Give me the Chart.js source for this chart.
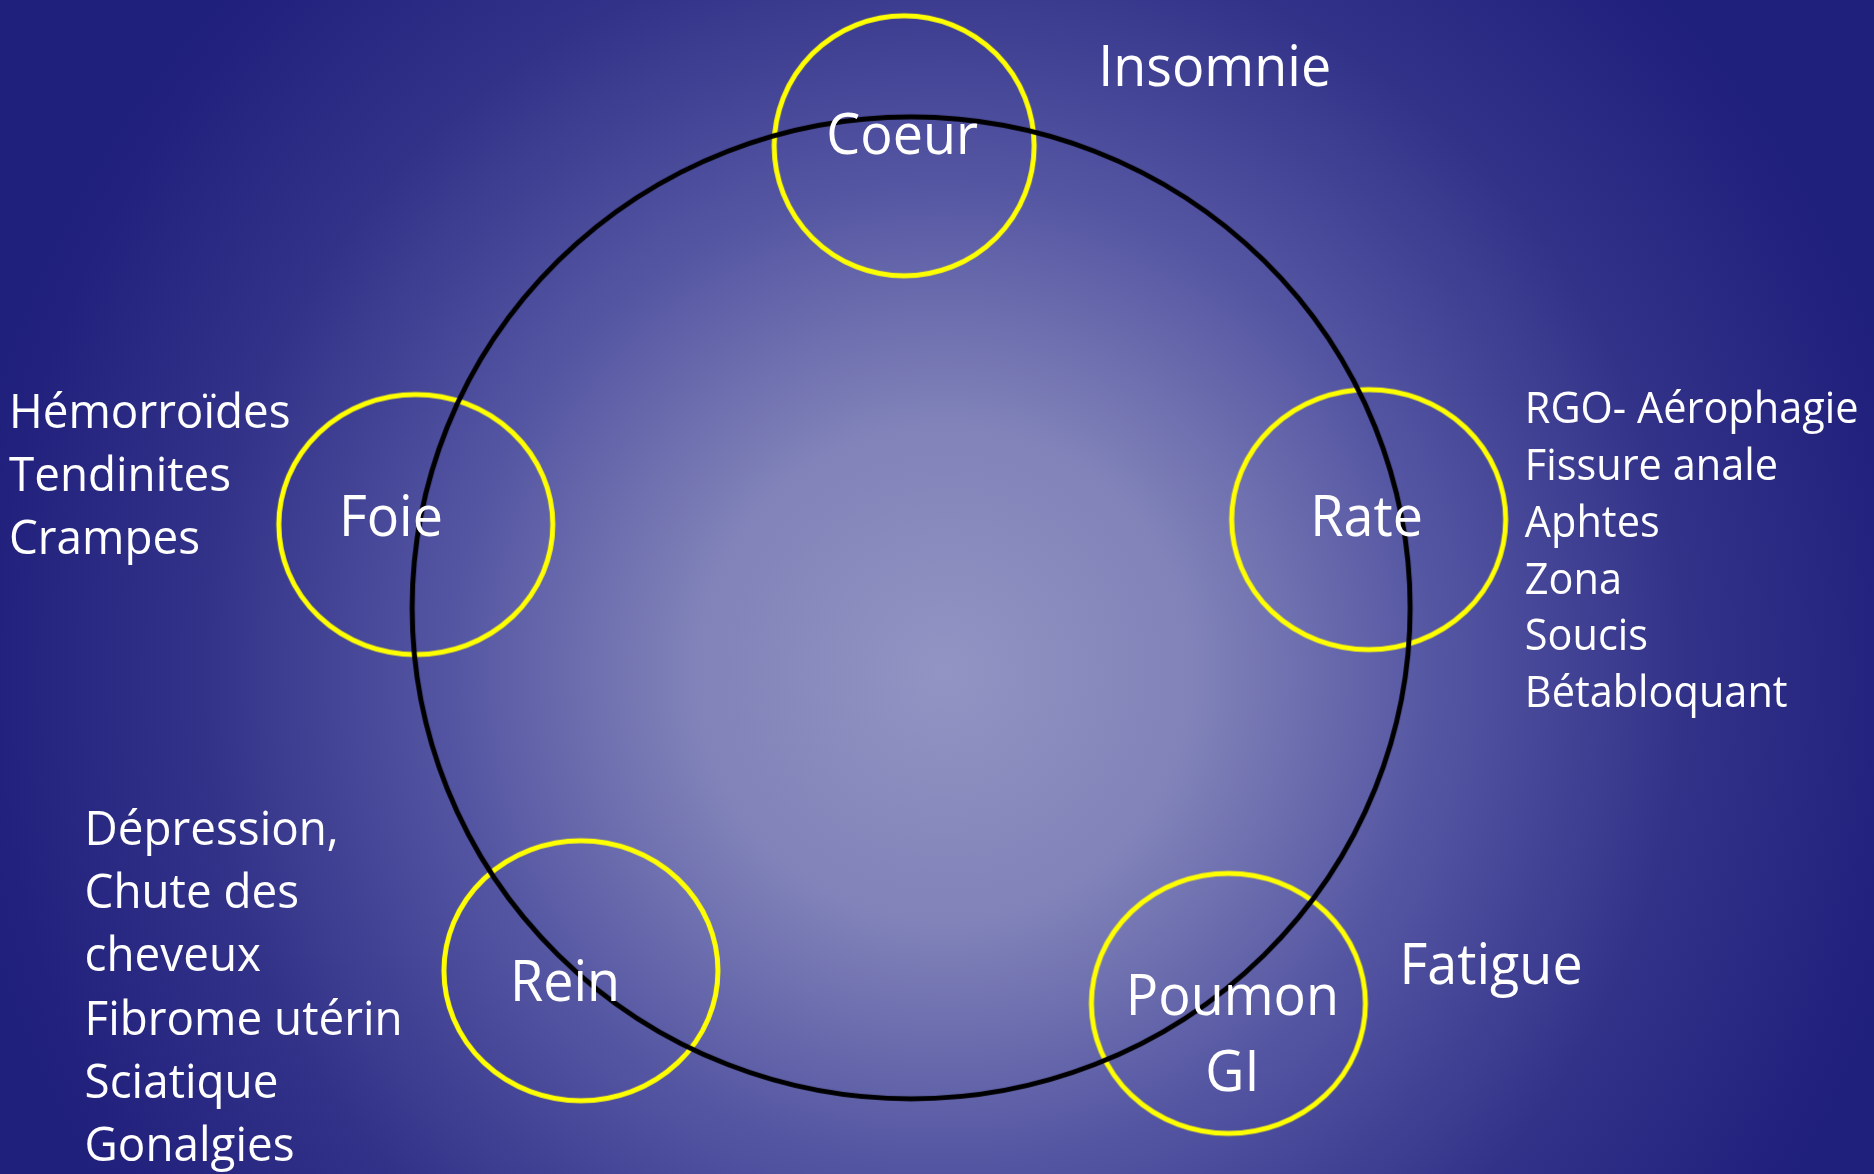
<!DOCTYPE html>
<html lang="fr">
<head>
<meta charset="utf-8">
<title>Organes et symptômes</title>
<script src="https://cdn.jsdelivr.net/npm/chart.js@4.4.1/dist/chart.umd.min.js"></script>
<style>
  html, body { margin: 0; padding: 0; background: #1f1f7c; }
  #wrap { width: 1874px; height: 1174px; position: relative; }
</style>
</head>
<body>
<div id="wrap"><canvas id="schema"></canvas></div>
<script>
// organes (centre des cercles jaunes, repere 1874 x 1174)
const organes = ['Coeur', 'Foie', 'Rate', 'Rein', 'Poumon\nGI'];
const organeX = [904, 413, 1371, 579, 1230];
const organeY = [142, 524, 519, 974, 1007];
const organeRx = [130, 137, 137, 137, 137];
const organeRy = [130, 130, 130, 130, 130];
// position du texte de chaque organe (centre, ligne de base)
const labelX = [902, 388, 1369, 563, 1234];
const labelY = [150, 536, 536, 1005, 1019];

// grand cercle
const cercleX = [911];
const cercleY = [608];
const cercleRx = [499];
const cercleRy = [491];

// symptomes
const symptomes = [
  ['Insomnie'],
  ['Hémorroïdes', 'Tendinites', 'Crampes'],
  ['RGO- Aérophagie', 'Fissure anale', 'Aphtes', 'Zona', 'Soucis', 'Bétabloquant'],
  ['Dépression,', 'Chute des', 'cheveux', 'Fibrome utérin', 'Sciatique', 'Gonalgies'],
  ['Fatigue']
];
const symptomeX = [1099, 4, 1528, 80, 1402];
const symptomeY = [82, 427, 422, 847, 987];
const symptomeInterligne = [0, 63.5, 57.2, 63.8, 0];
const symptomeCap = [40, 34, 30.8, 34, 40];

const POLICE = '"Open Sans", "Noto Sans", sans-serif';
const CAP = 0.714; // hauteur de capitale Open Sans

function anneau(rx, ry, couleur, epaisseur) {
  const c = document.createElement('canvas');
  c.width = Math.ceil(2 * (rx + epaisseur));
  c.height = Math.ceil(2 * (ry + epaisseur));
  const g = c.getContext('2d');
  g.strokeStyle = couleur;
  g.lineWidth = epaisseur;
  g.beginPath();
  g.ellipse(c.width / 2, c.height / 2, rx, ry, 0, 0, Math.PI * 2);
  g.stroke();
  return c;
}

let echelleX = 1;
function texte(ctx, t, x, y, cap, align) {
  ctx.font = (cap / CAP).toFixed(1) + 'px ' + POLICE;
  const w = ctx.measureText(t).width * echelleX;
  const x0 = align === 'center' ? x - w / 2 : x;
  ctx.save();
  ctx.translate(x0, y);
  ctx.scale(echelleX, 1);
  ctx.textAlign = 'left';
  ctx.textBaseline = 'alphabetic';
  ctx.fillText(t, 0, 0);
  ctx.restore();
}

const fond = {
  id: 'fond',
  beforeDraw(chart) {
    const ctx = chart.ctx;
    const sx = chart.scales.x, sy = chart.scales.y;
    const cx = sx.getPixelForValue(944), cy = sy.getPixelForValue(674);
    const g = ctx.createRadialGradient(cx, cy, 0, cx, cy, 990);
    g.addColorStop(0, '#9294c3');
    g.addColorStop(0.25, '#8183b9');
    g.addColorStop(0.5, '#5455a2');
    g.addColorStop(0.75, '#323289');
    g.addColorStop(1, '#1f1f7c');
    ctx.save();
    ctx.fillStyle = g;
    ctx.fillRect(0, 0, chart.width, chart.height);
    ctx.restore();
  }
};

const textes = {
  id: 'textes',
  afterDatasetsDraw(chart) {
    const ctx = chart.ctx;
    const sx = chart.scales.x, sy = chart.scales.y;
    ctx.save();
    ctx.font = (40 / CAP).toFixed(1) + 'px ' + POLICE;
    echelleX = 233 / ctx.measureText('Insomnie').width;
    ctx.fillStyle = '#ffffff';

    organes.forEach((nom, i) => {
      nom.split('\n').forEach((ligne, j) => {
        texte(ctx, ligne, sx.getPixelForValue(labelX[i]),
          sy.getPixelForValue(labelY[i] + j * 76), 40, 'center');
      });
    });

    symptomes.forEach((liste, i) => {
      liste.forEach((ligne, j) => {
        texte(ctx, ligne, sx.getPixelForValue(symptomeX[i]),
          sy.getPixelForValue(symptomeY[i] + j * symptomeInterligne[i]), symptomeCap[i], 'left');
      });
    });
    ctx.restore();
  }
};

const cercleData = cercleX.map((x, i) => ({ x: x, y: cercleY[i] }));
const organeData = organeX.map((x, i) => ({ x: x, y: organeY[i] }));

new Chart(document.getElementById('schema'), {
  type: 'scatter',
  data: {
    datasets: [
      {
        label: 'Cycle',
        data: cercleData,
        pointStyle: cercleRx.map((rx, i) => anneau(rx, cercleRy[i], '#000000', 5)),
        pointRadius: 1,
        clip: false
      },
      {
        label: 'Organes',
        data: organeData,
        pointStyle: organeRx.map((rx, i) => anneau(rx, organeRy[i], '#ffff00', 5)),
        pointRadius: 1,
        clip: false
      }
    ]
  },
  options: {
    responsive: true,
    maintainAspectRatio: false,
    animation: false,
    events: [],
    layout: { padding: 0 },
    plugins: {
      legend: { display: false },
      tooltip: { enabled: false }
    },
    scales: {
      x: { type: 'linear', min: 0, max: 1874, display: false },
      y: { type: 'linear', min: 0, max: 1174, reverse: true, display: false }
    }
  },
  plugins: [fond, textes]
});
</script>
</body>
</html>
